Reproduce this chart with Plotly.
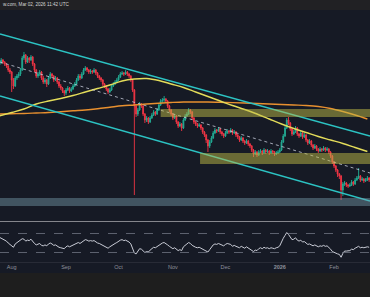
import plotly.graph_objects as go
import pandas as pd

W, H = 370, 297

# ---------------- data (price in chart units) ----------------
start_date = "2025-07-25"
n_days = 212
dates = pd.date_range(start_date, periods=n_days, freq="D")

opens = [156,158,161,159,157,155,151,149,141,135,143,145,147,151,163,166,159,163,161,164,
         157,151,145,147,149,143,139,141,137,143,147,145,141,143,139,135,133,130,128,131,
         133,130,132,135,137,141,145,143,147,151,153,151,149,150,149,151,148,145,143,141,
         137,135,132,129,131,135,137,139,141,144,147,148,147,149,147,145,141,131,115,107,
         111,117,115,107,101,103,99,103,106,109,107,111,116,120,121,122,120,115,111,107,
         103,105,99,95,97,93,101,105,107,111,109,103,99,97,95,96,93,89,86,81,
         75,79,83,88,91,90,92,89,87,85,88,90,89,91,88,89,86,84,81,83,
         80,78,80,77,75,71,67,69,66,69,70,68,71,69,70,68,70,69,67,68,
         69,71,79,85,93,101,98,92,87,89,93,87,85,88,84,86,81,78,80,76,
         73,75,72,70,72,71,73,71,72,69,65,59,55,51,47,45,31,37,38,36,
         35,36,39,37,41,43,45,41,42,40,41,43]
closes = [158,161,159,157,155,151,149,141,135,143,145,147,151,163,166,159,163,161,164,157,
          151,145,147,149,143,139,141,137,143,147,145,141,143,139,135,133,130,128,131,133,
          130,132,135,137,141,145,143,147,151,153,151,149,150,149,151,148,145,143,141,137,
          135,132,129,131,135,137,139,141,144,147,148,147,149,147,145,141,131,115,107,111,
          117,115,107,101,103,99,103,106,109,107,111,116,120,121,122,120,115,111,107,103,
          105,99,95,97,93,101,105,107,111,109,103,99,97,95,96,93,89,86,81,75,
          79,83,88,91,90,92,89,87,85,88,90,89,91,88,89,86,84,81,83,80,
          78,80,77,75,71,67,69,66,69,70,68,71,69,70,68,70,69,67,68,69,
          71,79,85,93,101,98,92,87,89,93,87,85,88,84,86,81,78,80,76,73,
          75,72,70,72,71,73,71,72,69,65,59,55,51,47,45,31,37,38,36,35,
          36,39,37,41,43,45,41,42,40,41,43,41]
highs = [160,163,162,160,158,156,153,150,143,145,147,149,153,165,169,167,165,164,166,165,
         158,152,149,151,150,145,143,142,145,149,148,146,145,144,140,137,134,131,133,135,
         134,134,137,139,143,147,147,149,153,155,154,152,152,151,153,152,149,146,144,142,
         138,136,133,133,137,139,141,143,146,149,150,149,151,150,148,146,142,132,117,113,
         119,118,116,108,105,104,105,108,111,110,113,118,122,123,125,123,121,116,112,108,
         107,106,100,99,98,103,107,109,113,112,110,104,100,98,98,97,94,90,87,82,
         81,85,90,93,92,94,93,90,88,90,92,91,93,92,91,90,87,85,85,84,
         81,82,81,78,76,72,71,70,71,72,71,73,72,72,71,72,71,70,70,71,
         73,81,87,95,103,104,99,93,91,95,94,88,90,89,88,87,82,82,81,77,
         77,76,73,74,73,75,74,74,73,70,66,60,56,52,48,46,39,40,39,37,
         38,41,40,43,45,53,46,44,43,43,45,44]
lows = [154,157,157,155,153,149,147,129,132,134,141,143,145,150,161,157,158,158,160,155,
        149,143,143,145,141,137,137,134,136,142,143,139,140,137,133,131,128,125,126,130,
        128,129,131,134,136,140,141,142,146,150,149,147,147,147,148,146,143,141,139,135,
        133,130,127,128,130,134,136,138,140,143,146,145,146,145,143,139,129,26,104,105,
        110,113,105,98,99,97,98,102,105,105,106,110,115,118,119,118,113,109,105,101,
        102,97,93,94,90,92,100,104,106,107,101,97,95,93,94,91,87,84,78,69,
        73,78,82,87,88,89,87,85,83,84,87,87,88,86,87,84,82,79,80,78,
        76,77,75,73,69,64,66,64,65,68,66,67,67,68,66,67,67,65,66,67,
        68,70,78,84,92,96,90,85,86,88,85,83,84,82,83,79,76,77,74,71,
        72,70,68,69,69,70,69,70,67,63,57,53,49,44,42,21,25,35,34,33,
        34,35,35,36,40,42,39,40,38,39,40,39]

rsi = [62,60,58,56,54,50,47,43,41,48,51,53,55,59,58,54,56,55,58,53,
       49,46,48,49,45,44,46,44,48,50,48,45,46,43,41,40,39,38,42,44,
       42,44,46,47,49,51,49,52,55,57,56,54,55,54,55,52,50,49,47,45,
       43,41,39,42,45,47,49,51,54,56,57,55,56,54,52,48,40,29,27,32,
       38,37,33,30,32,31,35,38,41,40,43,46,49,50,51,49,46,43,41,38,
       40,36,34,36,34,42,46,48,51,49,45,42,41,40,41,39,37,36,34,31,
       36,41,46,48,47,49,47,46,44,47,49,48,47,43,45,43,42,40,43,40,
       39,42,39,38,35,32,35,34,38,40,38,41,39,40,38,40,39,38,40,41,
       44,53,60,66,72,68,61,57,58,61,56,54,56,52,53,49,47,48,46,44,
       46,43,42,44,43,45,43,44,41,37,32,30,28,27,26,20,28,33,33,33,
       34,37,36,39,41,43,40,41,40,41,42,41]

# moving averages, sampled weekly
ma_dates = pd.date_range(start_date, periods=31, freq="7D")
ma_yellow = [105,108.5,112,117,120,122.5,125.5,129,132.5,136,140,142,142.5,140.5,137,133.5,
             129,124.5,120,115.5,111.5,107,102,97,92.5,88.5,84.5,81,77.5,73.5,69.5]
ma_orange = [107,107.3,107.5,108,108.5,109.3,110.2,111,112.2,113.7,115.2,116,117,117.8,118.5,119,
             119,119,118.7,118.4,118,117.5,117,116.5,116,115.5,114.5,112.5,109.5,106,102]

# channel trendlines
trend_x = ["2025-07-25 07:40", "2026-02-21 12:00"]
channel_upper = [187, 85]
channel_lower = [125, 20]
channel_mid = [159, 48]

# zones
zone_starts = ["2025-10-25", "2025-11-16 12:00"]
zone_lows = [104, 57]
zone_highs = [112, 68]
support_low, support_high = 15, 23

x_range = ["2025-07-25 07:40", "2026-02-21 12:00"]
tick_vals = ["2025-08-01", "2025-09-01", "2025-10-01", "2025-11-01", "2025-12-01", "2026-01-01", "2026-02-01"]
tick_text = ["Aug", "Sep", "Oct", "Nov", "Dec", "<b>2026</b>", "Feb"]
header_text = "w.com, Mar 02, 2026 11:42 UTC"

# ---------------- styling ----------------
UP = "#22ab94"
DN = "#f23645"
TEAL = "#2cc3c3"
YEL = "#e3dc5a"
ORA = "#e8902f"
BG = "#161a25"

def py(px):
    return 1 - px / H

fig = go.Figure()

fig.add_trace(go.Candlestick(
    x=dates, open=opens, high=highs, low=lows, close=closes,
    increasing=dict(line=dict(color=UP, width=0.9), fillcolor=UP),
    decreasing=dict(line=dict(color=DN, width=0.9), fillcolor=DN),
    whiskerwidth=0, showlegend=False, hoverinfo="skip", xaxis="x", yaxis="y"))

fig.add_trace(go.Scatter(x=ma_dates, y=ma_orange, mode="lines", xaxis="x", yaxis="y",
                         line=dict(color=ORA, width=1.4, shape="spline"), showlegend=False, hoverinfo="skip"))
fig.add_trace(go.Scatter(x=ma_dates, y=ma_yellow, mode="lines", xaxis="x", yaxis="y",
                         line=dict(color=YEL, width=1.4, shape="spline"), showlegend=False, hoverinfo="skip"))
for vals, dash, col, wd in [(channel_upper, "solid", TEAL, 1.3), (channel_lower, "solid", TEAL, 1.3),
                            (channel_mid, "dot", "rgba(210,215,230,0.75)", 1.0)]:
    fig.add_trace(go.Scatter(x=trend_x, y=vals, mode="lines", xaxis="x", yaxis="y",
                             line=dict(color=col, width=wd, dash=dash), showlegend=False, hoverinfo="skip"))

fig.add_trace(go.Scatter(x=dates, y=rsi, mode="lines", xaxis="x2", yaxis="y2",
                         line=dict(color="#c9ccd6", width=1.0), showlegend=False, hoverinfo="skip"))
for lvl in (70, 30):
    fig.add_trace(go.Scatter(x=x_range, y=[lvl, lvl], mode="lines", xaxis="x2", yaxis="y2",
                             line=dict(color="#6f7382", width=0.8, dash="dash"), showlegend=False, hoverinfo="skip"))

shapes = []
# backgrounds
shapes.append(dict(type="rect", xref="paper", yref="paper", x0=0, x1=1, y0=py(273), y1=py(10),
                   fillcolor=BG, line=dict(width=0), layer="below"))
shapes.append(dict(type="rect", xref="paper", yref="paper", x0=0, x1=1, y0=py(10), y1=1,
                   fillcolor="#212124", line=dict(width=0), layer="below"))
# zones
for s, lo, hi in zip(zone_starts, zone_lows, zone_highs):
    shapes.append(dict(type="rect", xref="x", yref="y", x0=s, x1="2026-02-23", y0=lo, y1=hi,
                       fillcolor="rgba(190,185,70,0.5)", line=dict(width=0), layer="above"))
shapes.append(dict(type="rect", xref="paper", yref="y", x0=0, x1=1, y0=support_low, y1=support_high,
                   fillcolor="rgba(120,160,175,0.44)", line=dict(width=0), layer="above"))
# pane separator and axis row line
shapes.append(dict(type="line", xref="paper", yref="paper", x0=0, x1=1, y0=py(221.5), y1=py(221.5),
                   line=dict(color="#85868c", width=1)))
shapes.append(dict(type="line", xref="paper", yref="paper", x0=0, x1=1, y0=py(262.5), y1=py(262.5),
                   line=dict(color="rgba(255,255,255,0.08)", width=1)))

fig.update_layout(
    width=W, height=H, margin=dict(l=0, r=0, t=0, b=0),
    paper_bgcolor="#1e1e1e", plot_bgcolor="rgba(0,0,0,0)",
    shapes=shapes, showlegend=False,
    font=dict(family="Liberation Sans, Arial, sans-serif"),
    xaxis=dict(domain=[0, 1], range=x_range, anchor="y", showticklabels=False, showgrid=False,
               zeroline=False, rangeslider=dict(visible=False), fixedrange=True),
    yaxis=dict(domain=[py(221), py(10)], range=[0, 211], showticklabels=False, showgrid=False,
               zeroline=False, anchor="x"),
    xaxis2=dict(domain=[0, 1], range=x_range, anchor="y2", matches="x", showgrid=False, zeroline=False,
                tickvals=tick_vals, ticktext=tick_text, ticks="", showline=False,
                tickfont=dict(size=5.5, color="#8d919c")),
    yaxis2=dict(domain=[py(262), py(222)], range=[10, 94.2], showticklabels=False, showgrid=False,
                zeroline=False, anchor="x2"),
    annotations=[dict(text=header_text, xref="paper", yref="paper", x=1 / W, y=py(4.8),
                      xanchor="left", yanchor="middle", showarrow=False,
                      font=dict(size=4.6, color="#d6d6d6"))],
)

fig.write_html("out.html")
